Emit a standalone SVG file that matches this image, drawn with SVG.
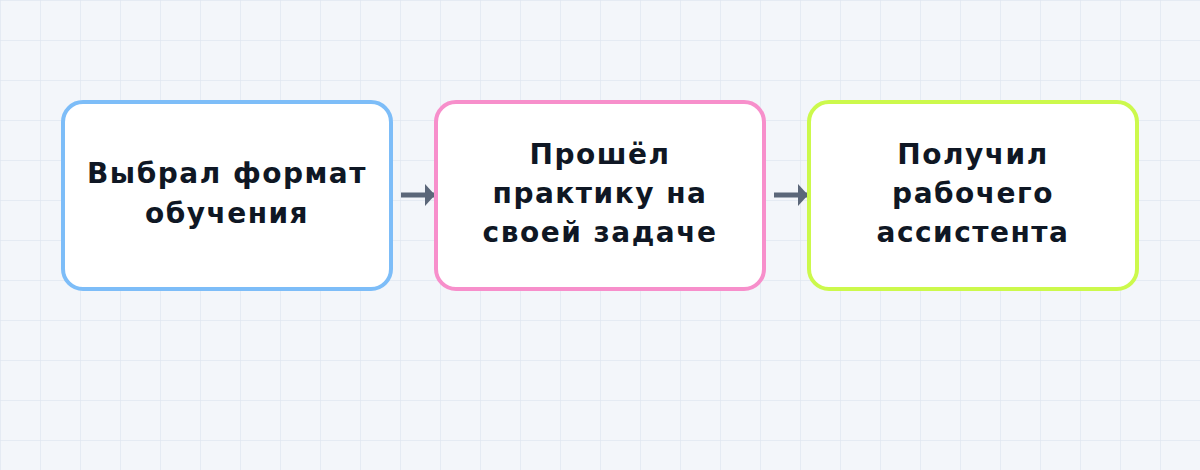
<svg xmlns="http://www.w3.org/2000/svg" width="1200" height="470" viewBox="0 0 1200 470">
  <defs>
    <pattern id="grid" width="40" height="40" patternUnits="userSpaceOnUse">
      <path d="M40 0 H0 V40" fill="none" stroke="#e1e7f1" stroke-width="1.5"/>
    </pattern>
    <marker id="arrow" viewBox="0 0 10 22" refX="9" refY="11" markerWidth="10" markerHeight="22" markerUnits="userSpaceOnUse" orient="auto" preserveAspectRatio="none">
      <path d="M0 0 L10 11 L0 22 Z" fill="#5b6779"/>
    </marker>
    <style>
      .box { fill: #ffffff; stroke-width: 4; }
      .lbl { font-family: "DejaVu Sans", sans-serif; font-weight: bold; font-size: 28px; fill: #0f1724; text-anchor: middle; letter-spacing: 1.5px; }
      .conn { stroke: #5b6779; stroke-width: 5; fill: none; }
    </style>
  </defs>
  <rect width="1200" height="470" fill="#f3f6fa"/>
  <rect width="1200" height="470" fill="url(#grid)"/>

  <g id="connectors">
    <line class="conn" x1="401" y1="195" x2="434" y2="195" marker-end="url(#arrow)"/>
    <line class="conn" x1="774" y1="195" x2="807" y2="195" marker-end="url(#arrow)"/>
  </g>

  <g id="node1">
    <rect class="box" x="63" y="102" width="328" height="187" rx="20" stroke="#7dbdf8"/>
    <text class="lbl" x="227" y="183">Выбрал формат</text>
    <text class="lbl" x="227" y="223">обучения</text>
  </g>
  <g id="node2">
    <rect class="box" x="436" y="102" width="328" height="187" rx="20" stroke="#f78fcb"/>
    <text class="lbl" x="600" y="164">Прошёл</text>
    <text class="lbl" x="600" y="203">практику на</text>
    <text class="lbl" x="600" y="242">своей задаче</text>
  </g>
  <g id="node3">
    <rect class="box" x="809" y="102" width="328" height="187" rx="20" stroke="#ccf94c"/>
    <text class="lbl" x="973" y="164">Получил</text>
    <text class="lbl" x="973" y="203">рабочего</text>
    <text class="lbl" x="973" y="242">ассистента</text>
  </g>
</svg>
